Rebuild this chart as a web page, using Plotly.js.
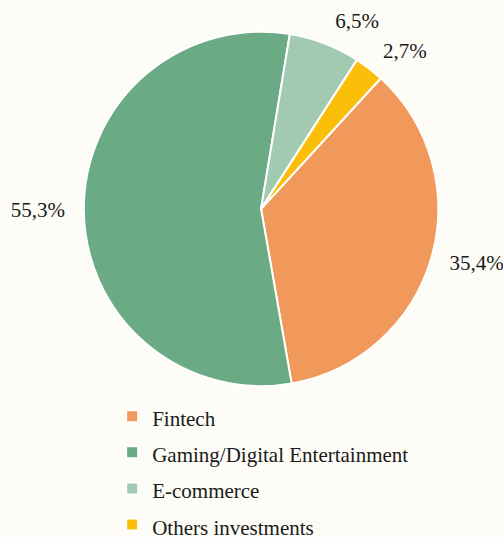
<!DOCTYPE html>
<html>
<head>
<meta charset="utf-8">
<script src="https://cdn.plot.ly/plotly-3.0.1.min.js"></script>
<style>
  html, body { margin: 0; padding: 0; background: #fdfcf7; }
  #chart { width: 503px; height: 537px; }
</style>
</head>
<body>
<div id="chart"></div>
<script>
var sectors = ['Fintech', 'Gaming/Digital Entertainment', 'E-commerce', 'Others investments'];
var shares = [35.4, 55.3, 6.5, 2.7];
var colours = ['#f0995a', '#6aaa84', '#a2cab0', '#fbbf0a'];

var serif = 'Liberation Serif, Times New Roman, serif';
var legendLabels = sectors.map(function (s) { return '<span style="font-size:21px">' + s + '</span>'; });

// the coloured pie, no text
var pie = {
    type: 'pie',
    labels: legendLabels,
    values: shares,
    sort: false,
    direction: 'clockwise',
    rotation: 42.5,
    marker: { colors: colours, line: { color: '#ffffff', width: 2 } },
    textinfo: 'none',
    hoverinfo: 'label+percent',
    domain: { x: [0.10, 0.938], y: [0.281, 0.941] }
};

// same slices a bit larger and invisible, only to push the % labels outwards
var labelRing = {
    type: 'pie',
    labels: legendLabels,
    values: shares,
    sort: false,
    direction: 'clockwise',
    rotation: 42.5,
    showlegend: false,
    marker: { colors: ['rgba(0,0,0,0)', 'rgba(0,0,0,0)', 'rgba(0,0,0,0)', 'rgba(0,0,0,0)'], line: { width: 0 } },
    texttemplate: '%{value:.1f}%',
    textposition: 'outside',
    automargin: false,
    outsidetextfont: { family: serif, size: 21, color: '#1a1a1a' },
    hoverinfo: 'skip',
    domain: { x: [0.12, 0.918], y: [0.257, 0.9646] }
};

var layout = {
    width: 503,
    height: 537,
    separators: ',.',
    font: { family: serif },
    paper_bgcolor: '#fdfcf7',
    plot_bgcolor: '#fdfcf7',
    margin: { l: 0, r: 0, t: 0, b: 0, autoexpand: false },
    showlegend: true,
    legend: {
        orientation: 'v',
        x: 0.223,
        xanchor: 'left',
        y: 0.268,
        yanchor: 'top',
        bgcolor: 'rgba(0,0,0,0)',
        font: { family: serif, size: 25.5, color: '#1a1a1a' }
    }
};

Plotly.newPlot('chart', [pie, labelRing], layout, { displayModeBar: false });
</script>
</body>
</html>
